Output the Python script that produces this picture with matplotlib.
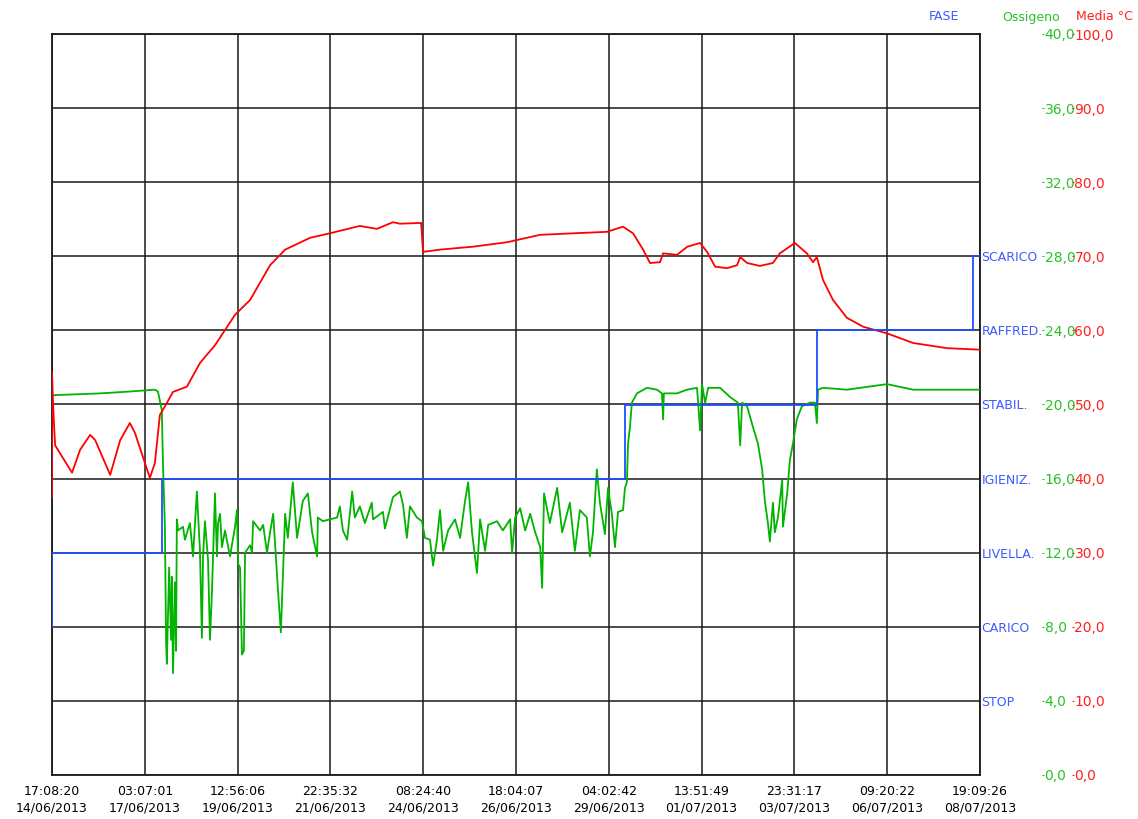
import matplotlib
matplotlib.use("Agg")
import matplotlib.pyplot as plt

plt.rcParams['font.family'] = ['DejaVu Sans']

# asse x in giorni dall'inizio (14/06/2013 17:08:20 -> 08/07/2013 19:09:26)
durata_giorni = 24.0841
etichette_x = [
    "17:08:20\n14/06/2013", "03:07:01\n17/06/2013", "12:56:06\n19/06/2013",
    "22:35:32\n21/06/2013", "08:24:40\n24/06/2013", "18:04:07\n26/06/2013",
    "04:02:42\n29/06/2013", "13:51:49\n01/07/2013", "23:31:17\n03/07/2013",
    "09:20:22\n06/07/2013", "19:09:26\n08/07/2013",
]

fasi = ["STOP", "CARICO", "LIVELLA.", "IGIENIZ.", "STABIL.", "RAFFRED.", "SCARICO"]
fase_giorni = [0, 0, 2.855, 14.87, 19.85, 23.90, 24.0841]
fase_valori = [2, 3, 4, 5, 6, 7, 7]

temp_giorni = [0, 0, 0.03, 0.08, 0.52, 0.73, 0.99, 1.12, 1.51, 1.77, 2.02, 2.15, 2.54,
               2.67, 2.80, 2.88, 2.98, 3.14, 3.50, 3.84, 4.23, 4.75, 5.14, 5.66, 6.05,
               6.70, 7.21, 7.99, 8.43, 8.85, 9.03, 9.58, 9.63, 10.07, 10.93, 11.81,
               12.67, 13.52, 14.40, 14.82, 15.08, 15.34, 15.52, 15.78, 15.86, 16.22,
               16.49, 16.82, 17.00, 17.21, 17.52, 17.78, 17.86, 18.04, 18.37, 18.71,
               18.89, 19.28, 19.59, 19.75, 19.85, 20.01, 20.27, 20.63, 21.05, 21.67,
               22.35, 23.23, 24.08]
temp_valori = [37.5, 54.4, 49.7, 44.5, 40.8, 43.9, 45.9, 45.2, 40.5, 45.2, 47.5, 46.2, 40.1,
               42.1, 48.6, 49.3, 50.2, 51.7, 52.4, 55.6, 58.0, 62.1, 64.1, 68.8, 70.9,
               72.5, 73.1, 74.1, 73.7, 74.6, 74.4, 74.5, 70.6, 70.9, 71.3, 71.9,
               72.9, 73.1, 73.3, 74.0, 73.1, 70.9, 69.1, 69.2, 70.4, 70.2,
               71.3, 71.8, 70.6, 68.6, 68.4, 68.8, 69.9, 69.1, 68.7, 69.1,
               70.4, 71.8, 70.4, 69.2, 69.9, 66.8, 64.1, 61.7, 60.5, 59.6,
               58.3, 57.6, 57.4]

ox_giorni = [0, 1.25, 2.02, 2.67, 2.75, 2.85, 2.88, 2.93, 2.96, 2.98, 3.04, 3.09, 3.11,
             3.14, 3.19, 3.22, 3.24, 3.27, 3.40, 3.45, 3.58, 3.66, 3.76, 3.79, 3.84,
             3.89, 3.92, 3.97, 4.05, 4.10, 4.15, 4.23, 4.28, 4.31, 4.36, 4.41, 4.49,
             4.62, 4.75, 4.80, 4.83, 4.88, 4.93, 4.98, 5.01, 5.14, 5.19, 5.22, 5.40,
             5.48, 5.58, 5.66, 5.74, 5.87, 5.94, 6.00, 6.05, 6.12, 6.25, 6.36, 6.51,
             6.64, 6.75, 6.88, 6.90, 7.03, 7.21, 7.40, 7.47, 7.55, 7.66, 7.79, 7.86,
             7.99, 8.12, 8.30, 8.33, 8.59, 8.64, 8.85, 9.03, 9.11, 9.21, 9.29, 9.47,
             9.60, 9.68, 9.81, 9.89, 9.99, 10.07, 10.15, 10.28, 10.46, 10.59, 10.72,
             10.80, 10.90, 11.03, 11.11, 11.24, 11.32, 11.55, 11.70, 11.89, 11.94,
             12.02, 12.15, 12.28, 12.41, 12.54, 12.67, 12.72, 12.77, 12.92, 13.11,
             13.24, 13.44, 13.57, 13.70, 13.88, 13.96, 14.04, 14.14, 14.22, 14.35,
             14.43, 14.53, 14.61, 14.69, 14.82, 14.87, 14.92, 14.95, 15.00, 15.05,
             15.18, 15.44, 15.70, 15.83, 15.86, 15.88, 16.22, 16.48, 16.74, 16.82,
             16.87, 16.95, 17.03, 17.34, 17.60, 17.80, 17.86, 17.91, 18.04, 18.19,
             18.32, 18.43, 18.50, 18.58, 18.63, 18.71, 18.76, 18.84, 18.95, 18.97,
             19.08, 19.15, 19.23, 19.33, 19.46, 19.67, 19.80, 19.85, 19.88, 20.01,
             20.63, 21.67, 22.35, 23.23, 24.08]
ox_valori = [20.5, 20.6, 20.7, 20.8, 20.7, 19.7, 16.8, 13.4, 7.3, 6.0, 11.2, 7.3, 10.7,
             5.5, 10.4, 6.7, 13.8, 13.2, 13.4, 12.7, 13.6, 11.8, 15.3, 14.1, 12.1,
             7.4, 11.8, 13.7, 11.6, 7.3, 9.8, 15.2, 11.8, 13.6, 14.1, 12.3, 13.2,
             11.8, 13.4, 14.3, 11.4, 11.2, 6.5, 6.7, 12.0, 12.4, 12.0, 13.7, 13.2,
             13.5, 12.0, 13.1, 14.1, 9.8, 7.7, 11.2, 14.1, 12.8, 15.8, 12.8, 14.8,
             15.2, 13.1, 11.8, 13.9, 13.7, 13.8, 13.9, 14.5, 13.2, 12.7, 15.3, 13.9,
             14.5, 13.6, 14.7, 13.8, 14.2, 13.3, 15.0, 15.3, 14.6, 12.8, 14.5, 13.9,
             13.7, 12.8, 12.7, 11.3, 12.7, 14.3, 12.1, 13.2, 13.8, 12.8, 14.8,
             15.8, 13.1, 10.9, 13.8, 12.1, 13.5, 13.7, 13.2, 13.8, 12.0,
             13.9, 14.4, 13.2, 14.1, 13.1, 12.3, 10.1, 15.2, 13.6, 15.5,
             13.1, 14.7, 12.1, 14.3, 13.9, 11.8, 13.1, 16.5, 14.7, 13.0,
             15.5, 14.1, 12.3, 14.2, 14.3, 15.5, 15.8, 17.9, 18.8, 20.1,
             20.6, 20.9, 20.8, 20.6, 19.2, 20.6, 20.6, 20.8, 20.9, 18.6,
             21.1, 20.1, 20.9, 20.9, 20.4, 20.1, 17.8, 20.1, 19.9, 18.8,
             17.9, 16.5, 14.8, 13.6, 12.6, 14.7, 13.1, 13.9, 15.9, 13.4,
             15.2, 17.0, 17.9, 19.2, 19.9, 20.1, 20.1, 19.0, 20.8, 20.9,
             20.8, 21.1, 20.8, 20.8, 20.8]

blu = "#1e50ff"
verde = "#00b400"
rosso = "#ff0000"
blu_testo = "#3c5aff"
verde_testo = "#28c228"
rosso_testo = "#ff2020"

fig = plt.figure(figsize=(11.38, 8.19), dpi=100)
ax = fig.add_axes([52 / 1138, 44 / 819, 928 / 1138, 741 / 819])
ax_o = ax.twinx()
ax_t = ax.twinx()

ax.set_xlim(0, durata_giorni)
ax.set_ylim(0, 10)
ax_o.set_ylim(0, 40)
ax_t.set_ylim(0, 100)

# griglia
passo = durata_giorni / 10
ax.set_xticks([i * passo for i in range(11)])
ax.set_xticklabels(etichette_x, fontsize=9, linespacing=1.35)
ax.tick_params(axis="x", length=0, pad=7)
ax.set_yticks(range(11))
ax.set_yticklabels([""] + fasi + ["", "", ""], fontsize=9, color=blu_testo)
ax.yaxis.tick_right()
ax.tick_params(axis="y", length=0, pad=1, labelcolor=blu_testo)
ax.grid(True, color="#1a1a1a", lw=1.1)
ax.set_axisbelow(True)
for s in ax.spines.values():
    s.set_color("#1a1a1a")
    s.set_linewidth(1.3)

# scale a destra: offset in punti (1 pt = 1.389 px a 100 dpi)
ax_o.set_yticks(range(0, 41, 4))
ax_o.set_yticklabels([f"{v:.1f}".replace(".", ",") for v in range(0, 41, 4)], fontsize=9)
ax_o.spines["right"].set_position(("outward", 44.5))
ax_o.spines["right"].set_visible(False)
ax_o.tick_params(axis="y", length=1.5, width=0.8, pad=0.5, color=verde_testo, labelcolor=verde_testo)

ax_t.set_yticks(range(0, 101, 10))
ax_t.set_yticklabels([f"{v:.1f}".replace(".", ",") for v in range(0, 101, 10)], fontsize=9)
ax_t.spines["right"].set_position(("outward", 66))
ax_t.spines["right"].set_visible(False)
ax_t.tick_params(axis="y", length=1.5, width=0.8, pad=0.5, color=rosso_testo, labelcolor=rosso_testo)
for a in (ax_o, ax_t):
    for k in ("left", "top", "bottom"):
        a.spines[k].set_visible(False)

ax_o.plot(ox_giorni, ox_valori, color=verde, lw=1.3, zorder=3)
ax_t.plot(temp_giorni, temp_valori, color=rosso, lw=1.3, zorder=3)
ax_t.plot(fase_giorni, [v * 10 for v in fase_valori], color=blu, lw=1.3,
          drawstyle="steps-post", zorder=4)

fig.text(944 / 1138, 1 - 17 / 819, "FASE", color=blu_testo, fontsize=9, ha="center", va="center")
fig.text(1031 / 1138, 1 - 17 / 819, "Ossigeno", color=verde_testo, fontsize=9, ha="center", va="center")
fig.text(1104 / 1138, 1 - 17 / 819, "Media °C", color=rosso_testo, fontsize=9, ha="center", va="center")

fig.savefig("out.png", dpi=100)
